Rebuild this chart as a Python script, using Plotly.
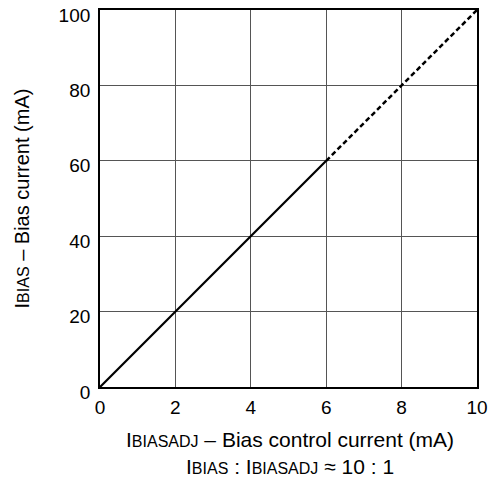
import plotly.graph_objects as go

x_solid = [0, 2, 4, 6]
y_solid = [0, 20, 40, 60]
x_dash = [6, 8, 10]
y_dash = [60, 80, 100]
x_ticks = [0, 2, 4, 6, 8, 10]
y_ticks = [0, 20, 40, 60, 80, 100]

FONT = "Liberation Sans, Arial, sans-serif"
sc = "<span style='font-size:16px'>{}</span>"

fig = go.Figure()
fig.add_trace(go.Scatter(x=x_solid, y=y_solid, mode="lines",
                         line=dict(color="black", width=2.2), showlegend=False))
fig.add_trace(go.Scatter(x=x_dash, y=y_dash, mode="lines",
                         line=dict(color="black", width=2.5, dash="5px,3px"), showlegend=False))

fig.update_layout(
    width=498, height=486,
    margin=dict(l=100, r=21, t=10, b=99),
    plot_bgcolor="white", paper_bgcolor="white",
    font=dict(family=FONT, size=19, color="black"),
    showlegend=False,
)
axis_common = dict(ticks="", showgrid=True, gridcolor="#555", gridwidth=1,
                   zeroline=False, showline=True, linecolor="black",
                   linewidth=1.8, mirror=True, tickfont=dict(size=19),
                   automargin=False, ticklabeloverflow="allow")
fig.update_xaxes(range=[0, 10], tickvals=x_ticks, ticklabelstandoff=2, **axis_common)
fig.update_yaxes(range=[0, 100], tickvals=y_ticks, ticklabelstandoff=4,
                 ticklabelshift=5, **axis_common)

fig.add_annotation(text="I" + sc.format("BIASADJ") + " – Bias control current (mA)",
                   xref="paper", yref="paper", x=0.505, y=-0.139, yanchor="middle",
                   showarrow=False, font=dict(size=21))
fig.add_annotation(text="I" + sc.format("BIAS") + " : I" + sc.format("BIASADJ") + " ≈ 10 : 1",
                   xref="paper", yref="paper", x=0.505, y=-0.21, yanchor="middle",
                   showarrow=False, font=dict(size=21))
fig.add_annotation(text="I" + sc.format("BIAS") + " – Bias current (mA)",
                   xref="paper", yref="paper", x=-0.207, y=0.5, xanchor="center",
                   yanchor="middle", textangle=-90,
                   showarrow=False, font=dict(size=20))

fig.write_html("out.html", config={"displayModeBar": False},
               post_script="document.body.style.margin='0';")
